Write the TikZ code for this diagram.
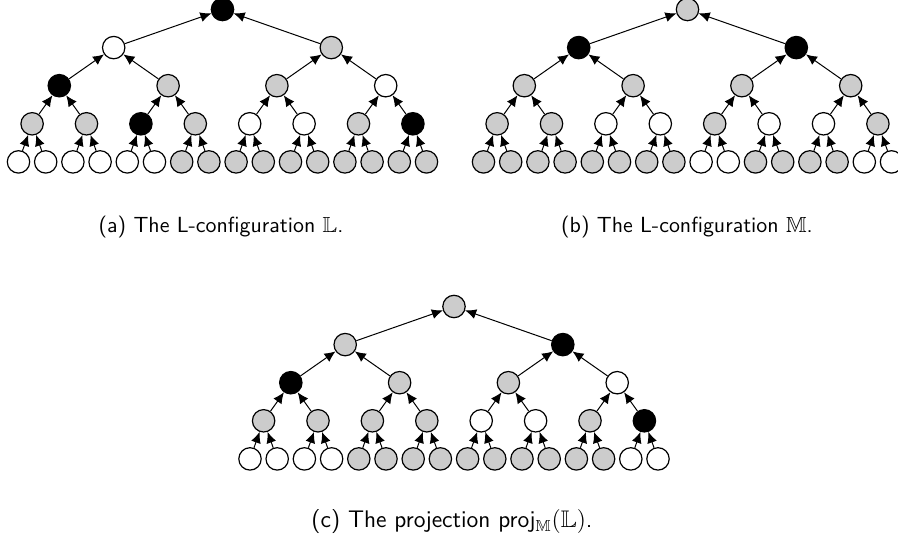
\documentclass[tikz,border=0pt]{standalone}
\usepackage{amssymb}
\usetikzlibrary{arrows.meta}
\tikzset{
  tn/.style={circle,draw=black,line width=0.6pt,minimum size=11.2pt,inner sep=0pt},
  nw/.style={tn,fill=white},
  ng/.style={tn,fill=gray!40},
  nb/.style={tn,fill=black},
  up/.style={-{Latex[length=5.5pt,width=5pt]},line width=0.5pt},
  captext/.style={font=\sffamily\fontsize{10.95}{13}\selectfont,inner sep=0pt}
}
\newcommand\mytree[4]{% #1 prefix, #2 leaf0 x, #3 root y, #4 level/colour list
  \foreach \l/\cols in {#4} {
    \foreach \c [count=\i] in \cols {
      \pgfmathsetmacro\spn{2^(4-\l)}
      \pgfmathsetmacro\xx{#2+27.2*((\i-1)*\spn+(\spn-1)/2)}
      \pgfmathsetmacro\yy{#3+38.1*\l}
      \node[n\c] (#1-\l-\i) at (\xx,\yy) {};
    }
  }
  \foreach \l in {1,...,4} {
    \pgfmathtruncatemacro\lm{\l-1}
    \pgfmathtruncatemacro\nn{2^\l}
    \foreach \i in {1,...,\nn} {
      \pgfmathtruncatemacro\p{(\i+1)/2}
      \draw[up] (#1-\l-\i) -- (#1-\lm-\p);
    }
  }
}
\begin{document}
\begin{tikzpicture}[x=0.5pt,y=-0.5pt]
\useasboundingbox (0,0) rectangle (898,545);
\clip (0,0) rectangle (898,545);
\mytree{a}{18.5}{9.5}{0/{b},1/{w,g},2/{b,g,g,w},3/{g,g,b,g,w,w,g,b},4/{w,w,w,w,w,w,g,g,g,g,g,g,g,g,g,g}}
\mytree{b}{483.5}{9.5}{0/{g},1/{b,b},2/{g,g,g,g},3/{g,g,w,w,g,w,w,g},4/{g,g,g,g,g,g,g,g,w,w,g,g,g,g,w,w}}
\mytree{c}{250}{306.5}{0/{g},1/{g,b},2/{b,g,g,w},3/{g,g,g,g,w,w,g,b},4/{w,w,w,w,g,g,g,g,g,g,g,g,g,g,w,w}}
\node[captext] (capa) at (221,227) {(a) The L-configuration $\mathbb{L}$.};
\node[captext] (capb) at (687,227) {(b) The L-configuration $\mathbb{M}$.};
\node[captext,font=\sffamily\fontsize{12}{14}\selectfont] (capc) at (452,522) {(c) The projection \textsf{proj}$_{\mathbb{M}}(\mathbb{L})$.};
\end{tikzpicture}
\end{document}
